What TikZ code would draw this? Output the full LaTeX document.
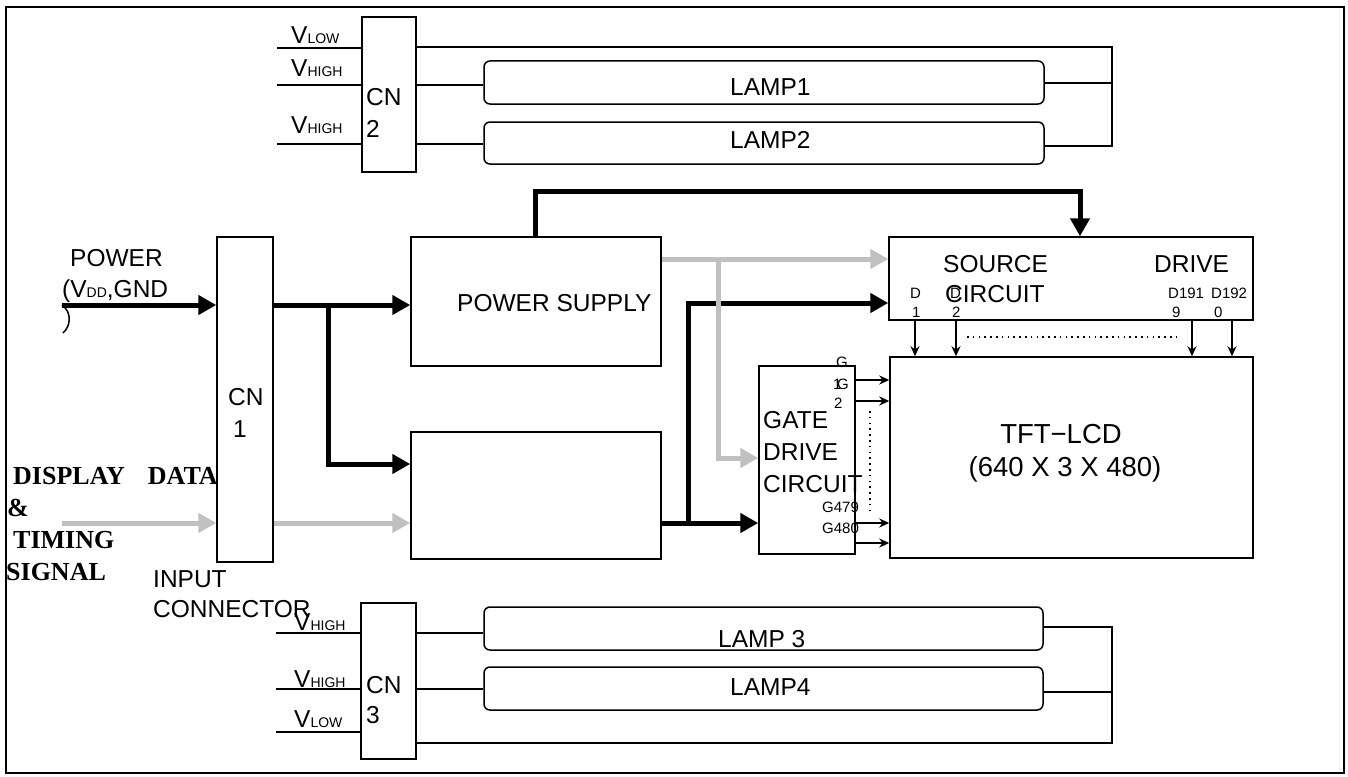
\documentclass[tikz,border=0pt]{standalone}
\usepackage{fontspec}
\setmainfont{Liberation Sans}
\newfontfamily\serifbold{Liberation Serif}
\usetikzlibrary{arrows.meta}
\definecolor{sig}{HTML}{C0C0C0}
\newcommand\vsub[1]{V{\fontsize{14}{14}\selectfont #1}}
\begin{document}
\begin{tikzpicture}[x=1pt,y=-1pt,
  box/.style={draw, line width=1.5pt, inner sep=0pt, rectangle},
  lampbox/.style={box, rounded corners=6pt},
  wire/.style={line width=1.5pt},
  pw/.style={line width=5pt, -{Triangle[length=18pt,width=19pt]}},
  sg/.style={line width=5pt, draw=sig, -{Triangle[length=18pt,width=19pt,fill=sig]}},
  sa/.style={line width=2.4pt, -{Stealth[length=10pt,width=9pt]}},
  dots/.style={line width=1.6pt, dash pattern=on 1.6pt off 4.2pt},
  txt/.style={inner sep=0pt, anchor=base west, font=\fontsize{24.5}{28}\selectfont},
  sm/.style={inner sep=0pt, anchor=base west, font=\fontsize{15}{17}\selectfont},
  bigtxt/.style={inner sep=0pt, anchor=base, font=\fontsize{27.5}{30}\selectfont},
  sf/.style={inner sep=0pt, anchor=base west, font=\serifbold\bfseries\fontsize{26}{28}\selectfont}]
\useasboundingbox (0,0) rectangle (1348,776);
\draw[line width=1.2pt] (6,7) rectangle (1344,773);

% ---------- boxes ----------
\node[box, minimum width=54pt, minimum height=155pt] (cn2) at (389,94.5) {};
\node[lampbox, minimum width=560pt, minimum height=43pt] (lamp1) at (764,82.5) {};
\node[lampbox, minimum width=560pt, minimum height=42pt] (lamp2) at (764,143) {};
\node[box, minimum width=56pt, minimum height=325pt] (cn1) at (245,399.5) {};
\node[box, minimum width=250pt, minimum height=129pt] (ps) at (536,301.5) {};
\node[box, minimum width=250pt, minimum height=127pt] (ctrl) at (536,495.5) {};
\node[box, minimum width=364pt, minimum height=83pt] (src) at (1071,278.5) {};
\node[box, minimum width=96pt, minimum height=188pt] (gate) at (807,460) {};
\node[box, minimum width=363pt, minimum height=201pt] (tft) at (1071.5,457.5) {};
\node[box, minimum width=55pt, minimum height=156pt] (cn3) at (388.5,681) {};
\node[lampbox, minimum width=559pt, minimum height=43pt] (lamp3) at (763.5,628.5) {};
\node[lampbox, minimum width=559pt, minimum height=43pt] (lamp4) at (763.5,688.5) {};

% ---------- top lamp wiring ----------
\coordinate (vl) at (277,48);
\coordinate (vh1) at (277,85);
\coordinate (vh2) at (277,144);
\coordinate (rt) at (1112,47);
\coordinate (r1) at (1112,83);
\coordinate (r2) at (1112,146);
\draw[wire] (vl) -- (vl -| cn2.west);
\draw[wire] (vh1) -- (vh1 -| cn2.west);
\draw[wire] (vh2) -- (vh2 -| cn2.west);
\draw[wire] (cn2.east |- rt) -- (rt) -- (r2) -- (lamp2.east |- r2);
\draw[wire] (lamp1.east |- r1) -- (r1);
\draw[wire] (cn2.east |- vh1) -- (lamp1.west |- vh1);
\draw[wire] (cn2.east |- vh2) -- (lamp2.west |- vh2);

\node[txt] (tvl) at (291,44) {\vsub{LOW}};
\node[txt] (tvh1) at (291,77) {\vsub{HIGH}};
\node[txt] (tvh2) at (291,133) {\vsub{HIGH}};
\node[txt] (tcn2a) at (366,105) {CN};
\node[txt] (tcn2b) at (366,137) {2};
\node[txt] (tl1) at (730,95) {LAMP1};
\node[txt] (tl2) at (730,148) {LAMP2};

% ---------- power / signal input ----------
\node[txt] (tpow) at (70,266) {POWER};
\node[txt] (tvdd) at (62,297) {(V{\fontsize{14}{14}\selectfont DD},GND};
\coordinate (pin) at (62,305);
\draw[pw] (pin) -- (pin -| cn1.west);
\draw[wire] (62,305) .. controls (72,312) and (71,326) .. (63,333);

\coordinate (br) at (328,305);
\coordinate (brl) at (328,464);
\draw[pw] (cn1.east |- br) -- (ps.west |- br);
\draw[pw] (br) -- (brl) -- (brl -| ctrl.west);

\coordinate (gin) at (62,523);
\draw[sg] (gin) -- (gin -| cn1.west);
\draw[sg] (cn1.east |- gin) -- (ctrl.west |- gin);

% ---------- power supply to source drive ----------
\coordinate (pst) at (535,0);
\coordinate (tp) at (1080,191);
\draw[pw] (ps.north -| pst) |- (tp) -- (tp |- src.north);

\coordinate (bb) at (688,523);
\coordinate (bt) at (688,303);
\draw[pw] (ctrl.east |- bb) -- (bb -| gate.west);
\draw[pw] (bb) -- (bt) -- (bt -| src.west);

\coordinate (gs) at (718,259);
\coordinate (gg) at (718,458);
\draw[sg] (ps.east |- gs) -- (gs -| src.west);
\draw[sg] (gs) -- (gg) -- (gg -| gate.west);

% ---------- source outputs ----------
\foreach \i/\xx in {1/915,2/956,3/1192,4/1232}{
  \coordinate (d\i) at (\xx,0);
  \draw[sa] (src.south -| d\i) -- (tft.north -| d\i);
}
\coordinate (dt1) at (967,337);
\coordinate (dt2) at (1177,337);
\draw[dots] (dt1) -- (dt2);

% ---------- gate outputs ----------
\foreach \i/\yy in {1/380,2/401,3/523,4/543}{
  \coordinate (g\i) at (0,\yy);
  \draw[sa] (gate.east |- g\i) -- (tft.west |- g\i);
}
\coordinate (gd1) at (870,411);
\coordinate (gd2) at (870,513);
\draw[dots] (gd1) -- (gd2);

% ---------- texts ----------
\node[txt] (tps) at (457,311) {POWER SUPPLY};
\node[txt] (tso) at (943,272) {SOURCE};
\node[txt] (tdr) at (1154,272) {DRIVE};
\node[txt] (tci) at (945,302) {CIRCUIT};
\node[sm] (sd1a) at (910,298) {D};
\node[sm] (sd1b) at (912,317) {1};
\node[sm] (sd2a) at (950,298) {D};
\node[sm] (sd2b) at (952,317) {2};
\node[sm] (sd3a) at (1168,298) {D191};
\node[sm] (sd3b) at (1172,317) {9};
\node[sm] (sd4a) at (1211,298) {D192};
\node[sm] (sd4b) at (1214,317) {0};

\node[txt] (tga) at (763,428) {GATE};
\node[txt] (tgb) at (763,460) {DRIVE};
\node[txt] (tgc) at (763,492) {CIRCUIT};
\node[sm] (sg1a) at (836,367) {G};
\node[sm] (sg1b) at (833,389) {1};
\node[sm] (sg2a) at (837,389) {G};
\node[sm] (sg2b) at (834,408) {2};
\node[sm] (sg3) at (822,512) {G479};
\node[sm] (sg4) at (822,533) {G480};

\node[bigtxt] (ttft) at (1061,443) {TFT−LCD};
\node[bigtxt] (tres) at (1065,476) {(640 X 3 X 480)};

\node[txt] (tcn1a) at (228,405) {CN};
\node[txt] (tcn1b) at (233,437) {1};

\node[sf] (tdd) at (13,484) {DISPLAY\hspace{23pt}DATA};
\node[sf] (tamp) at (7,516) {\&};
\node[sf] (ttim) at (13,548) {TIMING};
\node[sf] (tsig) at (6,580) {SIGNAL};
\node[txt] (tin) at (153,587) {INPUT};
\node[txt] (tcon) at (153,617) {CONNECTOR};

% ---------- bottom lamp wiring ----------
\coordinate (bh1) at (276,633);
\coordinate (bh2) at (276,689);
\coordinate (blo) at (276,732);
\coordinate (bbt) at (1112,743);
\coordinate (b3) at (1112,627);
\coordinate (b4) at (1112,692);
\draw[wire] (bh1) -- (bh1 -| cn3.west);
\draw[wire] (bh2) -- (bh2 -| cn3.west);
\draw[wire] (blo) -- (blo -| cn3.west);
\draw[wire] (cn3.east |- bh1) -- (lamp3.west |- bh1);
\draw[wire] (cn3.east |- bh2) -- (lamp4.west |- bh2);
\draw[wire] (cn3.east |- bbt) -- (bbt) -- (b3) -- (lamp3.east |- b3);
\draw[wire] (lamp4.east |- b4) -- (b4);

\node[txt] (tbv1) at (294,630) {\vsub{HIGH}};
\node[txt] (tbv2) at (294,687) {\vsub{HIGH}};
\node[txt] (tbv3) at (294,727) {\vsub{LOW}};
\node[txt] (tcn3a) at (366,693) {CN};
\node[txt] (tcn3b) at (366,723) {3};
\node[txt] (tl3) at (718,647) {LAMP 3};
\node[txt] (tl4) at (730,695) {LAMP4};
\end{tikzpicture}
\end{document}
